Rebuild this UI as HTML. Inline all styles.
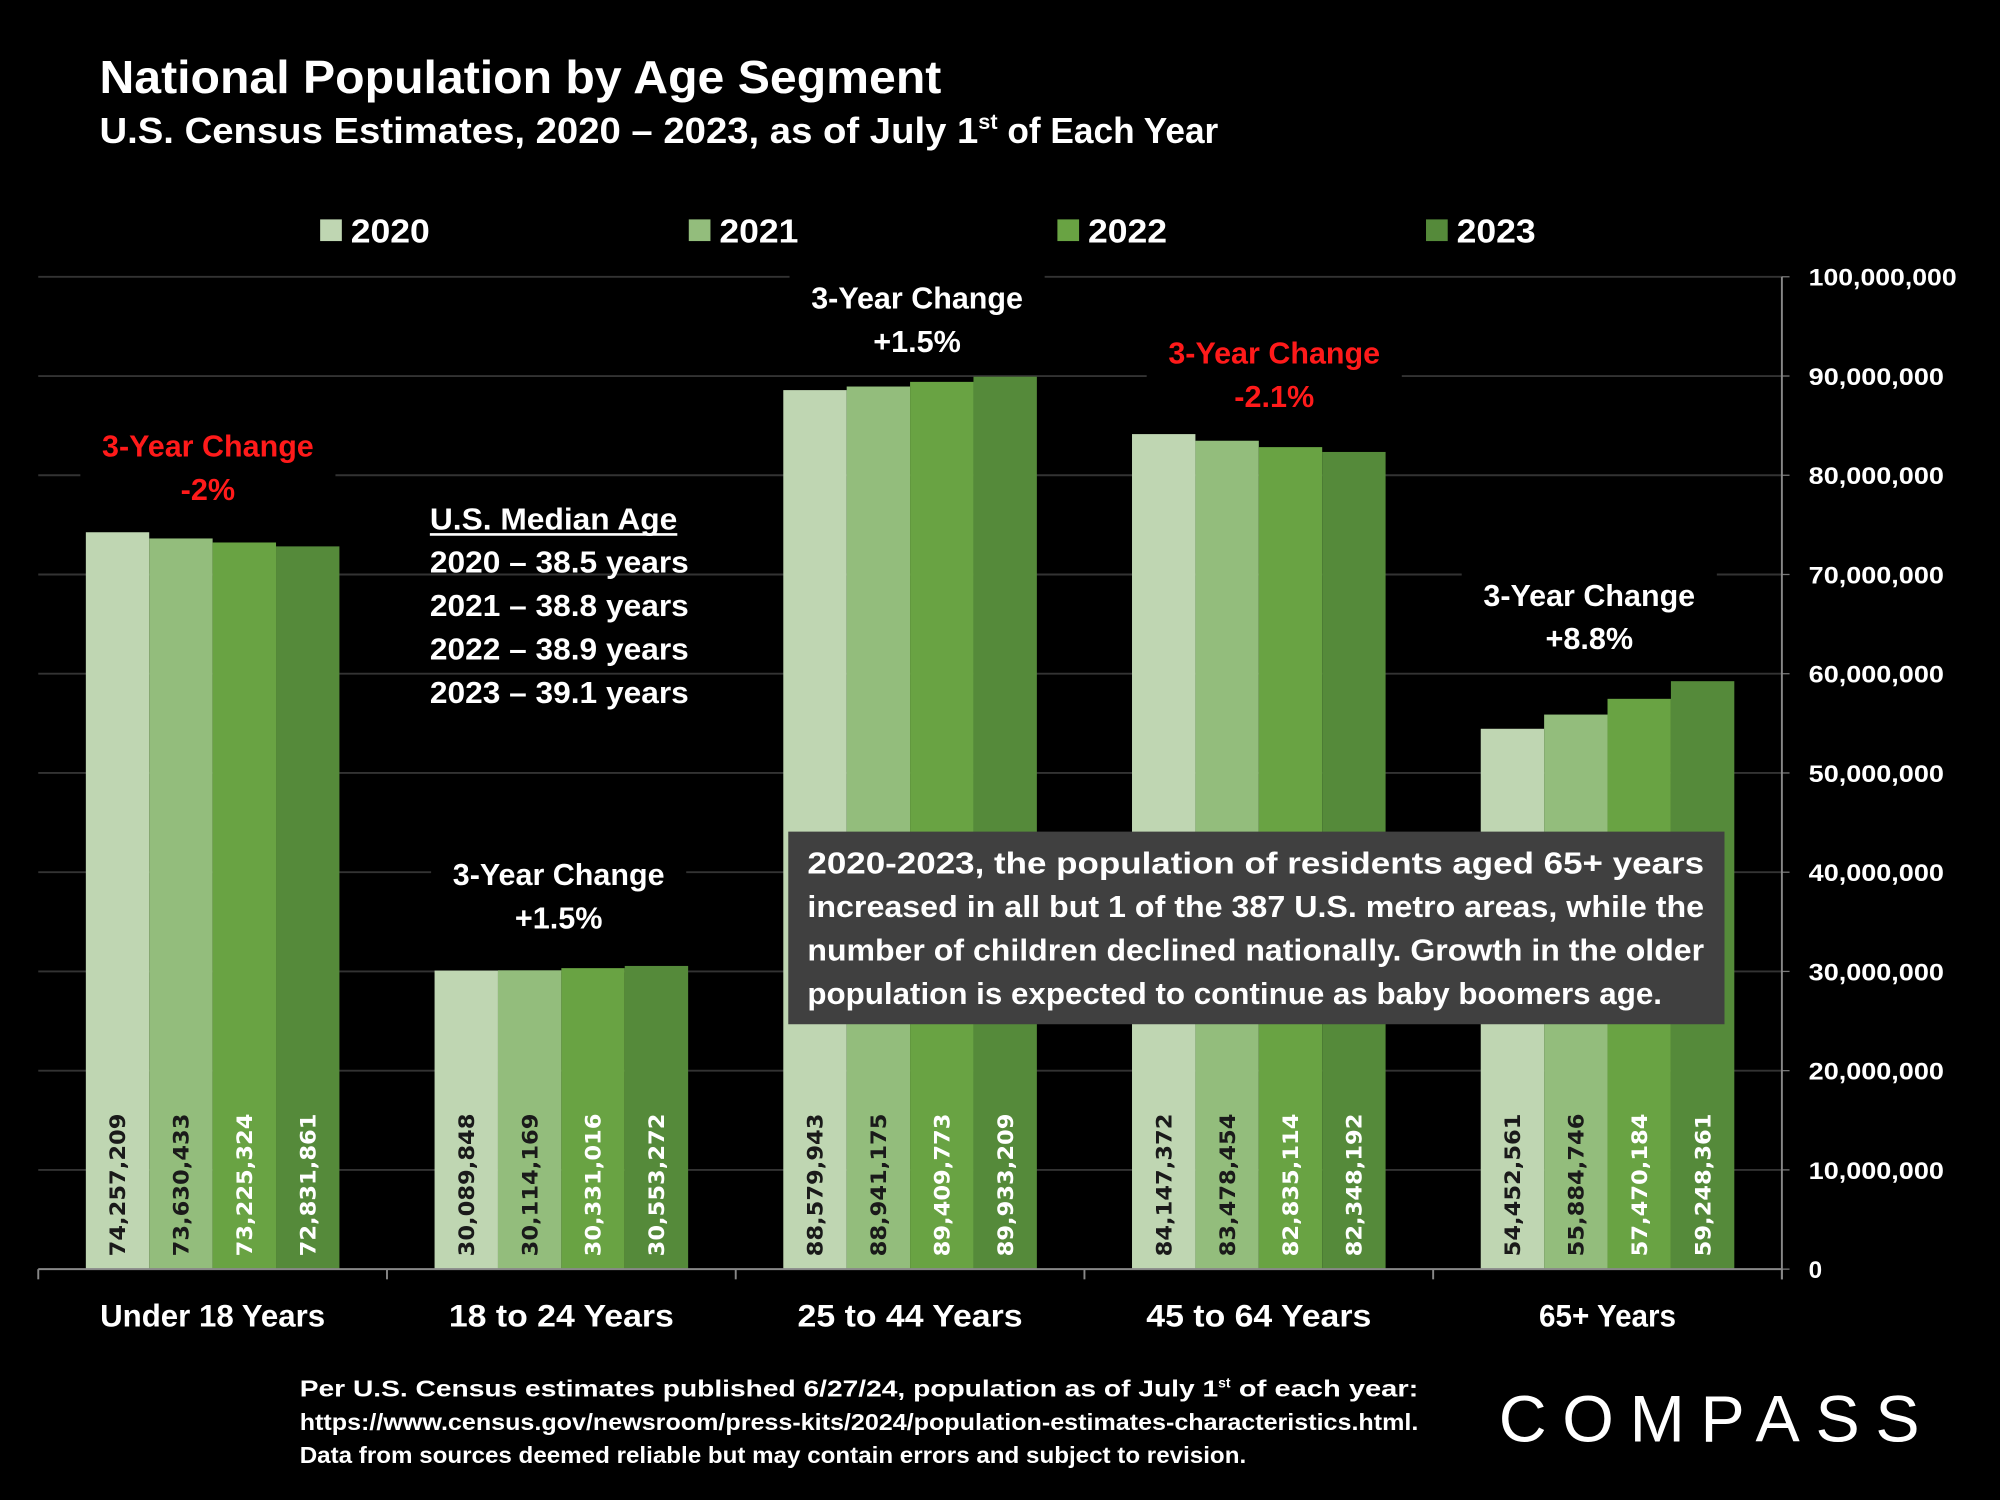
<!DOCTYPE html>
<html><head><meta charset="utf-8"><style>
html,body{margin:0;padding:0;background:#000;}
svg{display:block;}
text{font-family:"Liberation Sans",sans-serif;font-weight:bold;fill:#fff;}
</style></head><body>
<svg id="chart" width="2000" height="1500" viewBox="0 0 1568 1176" xmlns="http://www.w3.org/2000/svg">
<rect x="0" y="0" width="1568" height="1176" fill="#000"/>
<text x="78" y="73" font-size="36" textLength="660" lengthAdjust="spacingAndGlyphs">National Population by Age Segment</text>
<text x="78" y="112" font-size="28"><tspan textLength="689" lengthAdjust="spacingAndGlyphs">U.S. Census Estimates, 2020 – 2023, as of July 1</tspan><tspan font-size="17" dy="-11">st</tspan><tspan dy="11" textLength="173" lengthAdjust="spacingAndGlyphs"> of Each Year</tspan></text>
<g id="grid"></g>
<g id="bars"></g>
<g id="axes"></g>
<g id="legend"></g>
<g id="notes"></g>

<g>
<text x="337" y="415" font-size="24" textLength="194" lengthAdjust="spacingAndGlyphs">U.S. Median Age</text>
<line x1="337" y1="419" x2="531" y2="419" stroke="#fff" stroke-width="2"/>
<text x="337" y="449" font-size="24" textLength="203" lengthAdjust="spacingAndGlyphs">2020 – 38.5 years</text>
<text x="337" y="483" font-size="24" textLength="203" lengthAdjust="spacingAndGlyphs">2021 – 38.8 years</text>
<text x="337" y="517" font-size="24" textLength="203" lengthAdjust="spacingAndGlyphs">2022 – 38.9 years</text>
<text x="337" y="551" font-size="24" textLength="203" lengthAdjust="spacingAndGlyphs">2023 – 39.1 years</text>
</g>

<g>
<rect x="618" y="652" width="734" height="151" fill="#404040"/>
<text x="633" y="685" font-size="24" textLength="703" lengthAdjust="spacingAndGlyphs">2020-2023, the population of residents aged 65+ years</text>
<text x="633" y="719" font-size="24" textLength="703" lengthAdjust="spacingAndGlyphs">increased in all but 1 of the 387 U.S. metro areas, while the</text>
<text x="633" y="753" font-size="24" textLength="703" lengthAdjust="spacingAndGlyphs">number of children declined nationally. Growth in the older</text>
<text x="633" y="787" font-size="24" textLength="670" lengthAdjust="spacingAndGlyphs">population is expected to continue as baby boomers age.</text>
</g>

<g>
<text x="235" y="1095" font-size="18"><tspan textLength="720" lengthAdjust="spacingAndGlyphs">Per U.S. Census estimates published 6/27/24, population as of July 1</tspan><tspan font-size="11" dy="-7">st</tspan><tspan dy="7" x="965" textLength="147" lengthAdjust="spacingAndGlyphs"> of each year:</tspan></text>
<text x="235" y="1121" font-size="18" textLength="877" lengthAdjust="spacingAndGlyphs">https://www.census.gov/newsroom/press-kits/2024/population-estimates-characteristics.html.</text>
<text x="235" y="1147" font-size="18" textLength="742" lengthAdjust="spacingAndGlyphs">Data from sources deemed reliable but may contain errors and subject to revision.</text>
</g>
<text x="1175" y="1130" font-size="52" style="font-weight:normal" textLength="330" lengthAdjust="spacing">COMPASS</text>

<script>
const categories = ["Under 18 Years","18 to 24 Years","25 to 44 Years","45 to 64 Years","65+ Years"];
const years = ["2020","2021","2022","2023"];
const v2020 = [74257209,30089848,88579943,84147372,54452561];
const v2021 = [73630433,30114169,88941175,83478454,55884746];
const v2022 = [73225324,30331016,89409773,82835114,57470184];
const v2023 = [72831861,30553272,89933209,82348192,59248361];
const yTicks = [0,10000000,20000000,30000000,40000000,50000000,60000000,70000000,80000000,90000000,100000000];
const changeTitles = ["3-Year Change","3-Year Change","3-Year Change","3-Year Change","3-Year Change"];
const changeValues = ["-2%","+1.5%","+1.5%","-2.1%","+8.8%"];

const NS="http://www.w3.org/2000/svg";
const colors=["#bfd6b2","#93bd7c","#69a343","#558a3a"];
const labelColors=["#1a1a1a","#1a1a1a","#ffffff","#ffffff"];
const series=[v2020,v2021,v2022,v2023];
const X0=30,X1=1397,Y0=995,Y1=217,YMAX=100000000;
const groupW=(X1-X0)/categories.length;
const barW=49.7, pad=(groupW-barW*4)/2;
function yScale(v){return Y0-(v/YMAX)*(Y0-Y1);}
function xBar(g,s){return X0+g*groupW+pad+s*barW;}
function mk(tag,attrs,parent){const e=document.createElementNS(NS,tag);for(const k in attrs)e.setAttribute(k,attrs[k]);parent.appendChild(e);return e;}
const grid=document.getElementById('grid'),bars=document.getElementById('bars'),axes=document.getElementById('axes'),legend=document.getElementById('legend'),notes=document.getElementById('notes');

yTicks.forEach((t,i)=>{
  if(t>0){const l=mk('line',{x1:X0,x2:X1,y1:yScale(t),y2:yScale(t),stroke:'#333','stroke-width':1.5},grid);
  
  }
  const tk=mk('line',{x1:X1,x2:X1+6,y1:yScale(t),y2:yScale(t),stroke:'#777','stroke-width':1},axes);
  
  
  const tx=mk('text',{x:1418,y:yScale(t)+7,'font-size':19},axes);
  tx.textContent=t.toLocaleString('en-US');
  
  
  if(t>=10000000) tx.setAttribute('textLength', t>=100000000?116:106);
  if(t>=10000000) tx.setAttribute('lengthAdjust','spacingAndGlyphs');
});

series.forEach((vals,s)=>{
  vals.forEach((v,g)=>{
    const r=mk('rect',{x:xBar(g,s),y:yScale(v),width:barW,height:Y0-yScale(v),fill:colors[s]},bars);
    
    
    const cx=xBar(g,s)+barW/2+6, cy=985;
    const t=mk('text',{x:cx,y:cy,'font-size':17,fill:labelColors[s],transform:'rotate(-90 '+cx+' '+cy+')',textLength:112,lengthAdjust:'spacingAndGlyphs'},bars);
    t.setAttribute('style','font-family:"DejaVu Sans",sans-serif;font-weight:bold;fill:'+labelColors[s]);
    t.textContent=v.toLocaleString('en-US');
    
    
  });
});

const ax=mk('line',{x1:X0,x2:X1,y1:Y0,y2:Y0,stroke:'#888','stroke-width':1.5},axes);


const ay=mk('line',{x1:X1,x2:X1,y1:Y1,y2:Y0+8,stroke:'#888','stroke-width':1.5},axes);


for(let i=0;i<=categories.length;i++){
  const tk=mk('line',{x1:X0+i*groupW,x2:X0+i*groupW,y1:Y0,y2:Y0+8,stroke:'#888','stroke-width':1.5},axes);
  
  
}
categories.forEach((c,g)=>{
  const t=mk('text',{x:X0+g*groupW+groupW/2,y:1040,'font-size':25,'text-anchor':'middle',textLength:c.length*12.6-(g==4?6:0),lengthAdjust:'spacingAndGlyphs'},axes);
  t.textContent=c;
  
  
});

const legX=[251,540,829,1118];
years.forEach((y,s)=>{
  const r=mk('rect',{x:legX[s],y:172,width:17,height:17,fill:colors[s]},legend);
  
  
  const t=mk('text',{x:legX[s]+24,y:190,'font-size':26,textLength:62,lengthAdjust:'spacingAndGlyphs'},legend);
  t.textContent=y;
  
  
});

const noteCx=[163,438,719,999,1246];
const noteY=[358,694,242,285,475];
const noteColor=["#ff1a1a","#fff","#fff","#ff1a1a","#fff"];
changeTitles.forEach((ct,g)=>{
  const bg=mk('rect',{x:noteCx[g]-100,y:noteY[g]-28,width:200,height:70,fill:'#000'},notes);
  
  
  const t=mk('text',{x:noteCx[g],y:noteY[g],'font-size':24,'text-anchor':'middle',fill:noteColor[g],textLength:166,lengthAdjust:'spacingAndGlyphs'},notes);
  t.setAttribute('style','fill:'+noteColor[g]);
  t.textContent=ct;
  
  
  const t2=mk('text',{x:noteCx[g],y:noteY[g]+34,'font-size':24,'text-anchor':'middle'},notes);
  t2.setAttribute('style','fill:'+noteColor[g]);
  t2.textContent=changeValues[g];
  
  
});
</script>
</svg>
</body></html>
